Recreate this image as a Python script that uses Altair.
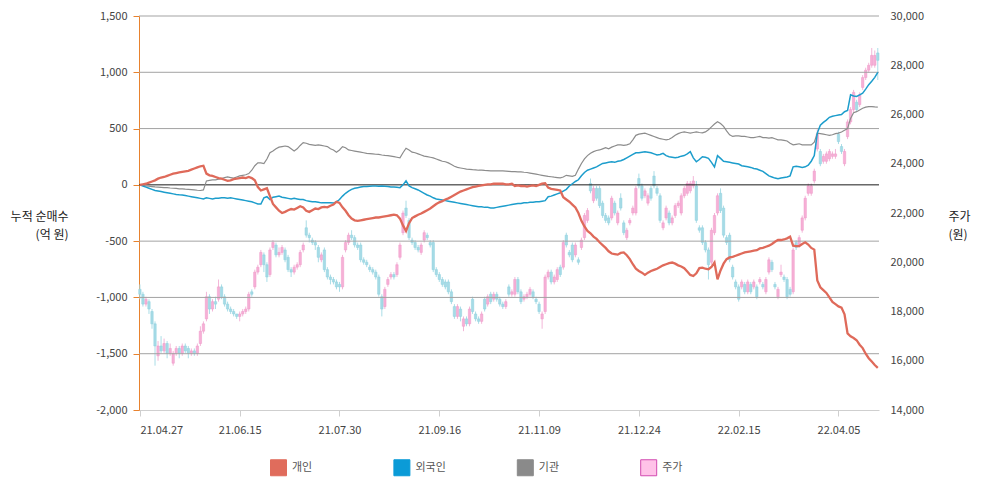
import altair as alt
import pandas as pd

# ---------------- data ----------------
TICK_IDX = [0, 33, 66, 99, 132, 165, 198, 231]
TICK_LABELS = ["21.04.27", "21.06.15", "21.07.30", "21.09.16", "21.11.09", "21.12.24", "22.02.15", "22.04.05"]
LEFT_TICKS = [-2000, -1500, -1000, -500, 0, 500, 1000, 1500]
GRID_VALUES = [-1500, -1000, -500, 500, 1000, 1500]
RIGHT_TICKS = [14000, 16000, 18000, 20000, 22000, 24000, 26000, 28000, 30000]
SERIES = ["개인", "외국인", "기관", "주가"]

# stock price OHLC, in units of 100 won
OPEN = [
    189, 187, 183, 184, 180, 175, 162, 166, 164, 167,
    163, 159, 163, 165, 163, 166, 165, 163, 164, 163,
    167, 172, 177, 186, 181, 184, 185, 190, 186, 183,
    181, 180, 179, 178, 179, 180, 181, 188, 190, 196,
    199, 203, 199, 195, 206, 207, 203, 204, 205, 202,
    197, 196, 198, 199, 205, 214, 211, 209, 208, 206,
    201, 205, 197, 194, 193, 192, 191, 190, 205, 208,
    211, 210, 207, 207, 201, 200, 198, 197, 196, 194,
    186, 182, 191, 194, 195, 195, 202, 212, 222, 217,
    209, 208, 206, 204, 209, 211, 208, 208, 197, 195,
    193, 192, 192, 188, 182, 178, 181, 174, 177, 175,
    185, 179, 177, 176, 185, 183, 187, 185, 187, 185,
    183, 182, 190, 187, 187, 193, 188, 185, 186, 187,
    188, 185, 183, 177, 180, 194, 196, 192, 193, 198,
    198, 211, 204, 207, 203, 201, 206, 210, 217, 232,
    225, 230, 230, 224, 219, 218, 218, 224, 216, 226,
    216, 210, 216, 220, 220, 234, 231, 227, 224, 230,
    235, 230, 227, 214, 218, 220, 216, 219, 223, 220,
    227, 228, 229, 231, 231, 214, 214, 208, 205, 200,
    212, 220, 228, 222, 210, 211, 198, 192, 190, 190,
    191, 188, 191, 190, 190, 192, 191, 188, 196, 200,
    191, 186, 195, 194, 193, 189, 188, 208, 207, 213,
    218, 228, 228, 233, 246, 245, 241, 241, 242, 243,
    243, 252, 247, 240, 251, 257, 262, 265, 264, 271,
    275, 278, 280, 280, 285,
]
CLOSE = [
    187, 183, 185, 181, 175, 166, 166, 164, 167, 163,
    165, 163, 165, 163, 166, 164, 163, 164, 163, 166,
    172, 175, 186, 181, 184, 183, 190, 186, 183, 181,
    180, 179, 178, 179, 180, 181, 187, 187, 196, 198,
    204, 199, 194, 205, 208, 203, 204, 206, 201, 197,
    196, 198, 199, 204, 207, 211, 210, 208, 207, 202,
    203, 197, 194, 193, 192, 190, 190, 202, 208, 211,
    210, 207, 206, 201, 200, 199, 197, 196, 194, 187,
    181, 189, 193, 195, 194, 199, 207, 220, 219, 210,
    208, 206, 205, 207, 212, 210, 207, 197, 195, 193,
    191, 190, 188, 184, 178, 182, 178, 177, 175, 181,
    180, 177, 176, 179, 181, 186, 184, 187, 185, 183,
    182, 184, 187, 188, 193, 188, 184, 186, 187, 189,
    186, 184, 180, 179, 194, 196, 192, 194, 197, 195,
    208, 207, 203, 201, 207, 200, 209, 219, 221, 229,
    230, 226, 223, 219, 217, 216, 226, 220, 220, 222,
    212, 213, 217, 222, 230, 231, 226, 229, 227, 226,
    231, 228, 217, 216, 222, 216, 218, 223, 224, 227,
    230, 232, 232, 233, 217, 213, 208, 205, 199, 213,
    219, 227, 221, 211, 208, 201, 194, 190, 185, 192,
    188, 192, 188, 192, 186, 193, 190, 193, 201, 197,
    190, 189, 196, 193, 186, 187, 205, 206, 210, 218,
    226, 231, 231, 237, 252, 240, 243, 244, 245, 244,
    244, 249, 245, 245, 257, 262, 269, 262, 268, 275,
    278, 280, 284, 284, 282,
]
HIGH = [
    191, 188, 186, 185, 181, 176, 168, 170, 169, 168,
    167, 164, 166, 166, 167, 167, 166, 165, 165, 167,
    174, 176, 188, 187, 185, 186, 193, 191, 187, 184,
    182, 181, 179, 180, 181, 182, 188, 189, 197, 199,
    205, 204, 200, 206, 209, 208, 206, 207, 206, 203,
    198, 199, 200, 205, 208, 217, 212, 210, 209, 207,
    204, 206, 198, 195, 194, 193, 192, 203, 209, 212,
    213, 211, 208, 208, 202, 201, 199, 198, 197, 195,
    187, 190, 194, 196, 196, 200, 208, 221, 225, 218,
    210, 209, 207, 208, 213, 212, 209, 209, 198, 196,
    194, 193, 193, 189, 183, 183, 182, 178, 178, 182,
    186, 180, 178, 180, 186, 187, 188, 188, 188, 186,
    184, 185, 191, 189, 194, 194, 189, 187, 188, 190,
    189, 186, 184, 180, 195, 197, 197, 195, 198, 199,
    209, 212, 205, 208, 208, 202, 210, 220, 222, 234,
    231, 231, 231, 225, 220, 219, 227, 225, 221, 228,
    217, 214, 218, 223, 231, 236, 232, 230, 228, 231,
    237, 231, 228, 217, 223, 221, 219, 224, 225, 228,
    231, 233, 233, 235, 233, 215, 215, 209, 206, 214,
    220, 228, 230, 223, 211, 212, 199, 193, 191, 193,
    192, 193, 192, 193, 191, 194, 192, 194, 202, 201,
    192, 190, 199, 195, 194, 190, 206, 209, 211, 219,
    227, 232, 232, 238, 254, 246, 244, 245, 246, 245,
    246, 253, 248, 246, 258, 263, 270, 266, 269, 276,
    279, 281, 287, 286, 287,
]
LOW = [
    185, 182, 182, 179, 173, 158, 160, 163, 163, 161,
    162, 158, 162, 161, 162, 163, 161, 162, 162, 162,
    166, 171, 176, 179, 180, 181, 184, 185, 182, 180,
    179, 178, 177, 176, 178, 179, 180, 186, 189, 195,
    198, 196, 192, 194, 205, 202, 202, 203, 200, 196,
    194, 195, 197, 198, 204, 210, 208, 207, 205, 200,
    200, 196, 193, 191, 191, 189, 188, 189, 204, 207,
    209, 206, 205, 200, 199, 198, 196, 195, 193, 186,
    178, 181, 190, 193, 193, 194, 201, 211, 218, 209,
    207, 205, 204, 203, 208, 209, 206, 196, 194, 192,
    190, 189, 187, 183, 177, 177, 176, 172, 174, 174,
    179, 176, 175, 175, 180, 182, 183, 184, 184, 182,
    181, 181, 186, 186, 186, 187, 183, 184, 185, 186,
    185, 183, 179, 173, 179, 193, 191, 191, 192, 194,
    197, 206, 202, 200, 202, 199, 205, 209, 216, 228,
    224, 225, 222, 218, 216, 215, 217, 219, 215, 221,
    211, 209, 215, 219, 219, 230, 225, 226, 223, 225,
    230, 227, 216, 213, 217, 215, 215, 218, 222, 219,
    226, 227, 228, 230, 216, 212, 207, 204, 193, 199,
    211, 219, 220, 210, 207, 200, 193, 189, 184, 189,
    187, 187, 187, 189, 185, 191, 189, 187, 195, 196,
    189, 185, 194, 192, 185, 186, 187, 205, 206, 212,
    217, 227, 227, 232, 245, 239, 240, 240, 241, 242,
    242, 248, 244, 239, 250, 256, 261, 261, 263, 270,
    274, 277, 279, 279, 274,
]

# cumulative net buying, 억 원
PERSONAL = [
    0, 5, 10, 20, 30, 40, 55, 65, 70, 80,
    90, 100, 105, 110, 115, 120, 125, 135, 145, 155,
    165, 170, 100, 85, 80, 70, 60, 55, 45, 35,
    40, 50, 55, 60, 65, 60, 70, 60, 40, -20,
    -50, -40, -30, -100, -170, -200, -230, -250, -240, -225,
    -215, -220, -205, -190, -200, -230, -240, -225, -210, -215,
    -200, -195, -200, -185, -175, -150, -160, -200, -230, -270,
    -300, -315, -320, -315, -310, -305, -300, -295, -290, -290,
    -285, -280, -275, -270, -265, -270, -300, -360, -410, -340,
    -295, -280, -265, -255, -240, -225, -210, -190, -170, -155,
    -145, -130, -120, -105, -90, -75, -60, -50, -40, -30,
    -20, -15, -10, -5, 0, 5, 5, 10, 10, 10,
    10, 5, 5, 10, -10, -5, -10, -10, -15, -10,
    -5, -10, 0, 10, 15, -25, -35, -40, -45, -50,
    -110, -130, -150, -175, -200, -250, -320, -370, -410, -430,
    -460, -480, -510, -535, -560, -590, -610, -615, -620, -605,
    -600, -625, -660, -705, -745, -765, -780, -800, -780, -765,
    -755, -745, -730, -715, -705, -695, -690, -700, -715, -725,
    -740, -770, -800, -810, -785, -740, -735, -745, -750, -730,
    -690, -840, -760, -700, -660, -645, -640, -630, -620, -610,
    -600, -595, -590, -585, -580, -565, -560, -550, -540, -525,
    -505, -490, -490, -485, -475, -460, -540, -545, -545, -525,
    -510, -530, -560, -575, -850, -910, -935, -960, -1000, -1040,
    -1060, -1080, -1090, -1150, -1320, -1345, -1360, -1380, -1420, -1450,
    -1500, -1540, -1570, -1600, -1625,
]
FOREIGN = [
    0, -10, -20, -30, -40, -50, -55, -60, -65, -70,
    -75, -80, -85, -88, -90, -95, -100, -105, -110, -115,
    -120, -125, -115, -120, -125, -120, -118, -115, -115, -118,
    -115, -120, -125, -130, -135, -140, -145, -150, -160, -170,
    -170, -115, -105, -130, -110, -105, -100, -110, -115, -120,
    -125, -120, -125, -130, -130, -140, -145, -150, -150, -155,
    -160, -160, -158, -160, -162, -150, -130, -100, -75, -55,
    -40, -30, -25, -20, -15, -15, -12, -10, -10, -12,
    -10, -12, -15, -18, -20, -22, -25, 0, 35, -10,
    -25, -35, -45, -60, -75, -90, -100, -115, -125, -130,
    -135, -140, -145, -150, -155, -160, -165, -170, -175, -180,
    -185, -190, -195, -195, -200, -200, -205, -205, -200, -195,
    -190, -185, -180, -175, -170, -165, -165, -160, -160, -155,
    -155, -150, -150, -145, -140, -105, -100, -90, -80, -70,
    -55, -40, -10, 10, 30, 45, 80, 110, 130, 140,
    150, 160, 175, 190, 195, 200, 205, 200, 210, 215,
    225, 240, 255, 270, 285, 285, 290, 295, 290, 285,
    275, 265, 270, 280, 260, 250, 245, 240, 245, 255,
    260, 275, 295, 240, 205, 225, 250, 245, 235, 200,
    160, 260, 235, 210, 205, 200, 195, 190, 185, 170,
    165, 160, 155, 145, 140, 130, 120, 100, 80, 70,
    60, 55, 60, 65, 70, 80, 160, 165, 160, 155,
    160, 175, 210, 260, 460, 530, 555, 575, 600, 610,
    615, 620, 625, 650, 660, 800, 790, 785, 800, 815,
    850, 890, 920, 955, 1000,
]
INSTITUTION = [
    0, -5, -10, -12, -15, -18, -20, -22, -25, -25,
    -28, -30, -32, -35, -35, -38, -40, -42, -45, -48,
    -50, -45, 35, 40, 45, 45, 50, 55, 65, 70,
    65, 60, 70, 80, 85, 90, 100, 130, 170, 195,
    195, 190, 230, 285, 300, 320, 335, 340, 345, 340,
    320, 300, 320, 350, 375, 370, 360, 355, 350, 355,
    350, 345, 340, 320, 310, 290, 310, 340, 330, 310,
    305, 300, 295, 290, 285, 280, 278, 275, 272, 270,
    265, 262, 260, 255, 250, 245, 240, 285, 325, 310,
    290, 285, 275, 265, 255, 250, 245, 240, 230, 220,
    210, 205, 195, 180, 165, 155, 150, 145, 140, 138,
    135, 133, 130, 130, 128, 127, 125, 125, 125, 124,
    124, 122, 120, 118, 118, 116, 115, 112, 110, 105,
    100, 95, 90, 85, 80, 75, 72, 68, 65, 62,
    70, 85, 80, 75, 85, 140, 190, 230, 260, 280,
    295, 305, 310, 320, 330, 320, 335, 345, 355, 355,
    350, 355, 365, 400, 440, 450, 455, 460, 450, 440,
    430, 420, 410, 405, 400, 405, 420, 440, 455, 465,
    470, 465, 460, 465, 470, 465, 462, 470, 490, 515,
    540, 560, 545, 520, 480, 445, 430, 435, 435, 430,
    430, 425, 420, 420, 425, 430, 420, 420, 415, 420,
    410, 400, 400, 395, 390, 370, 355, 360, 365, 355,
    355, 355, 355, 380, 460, 455, 450, 445, 440, 445,
    455, 460, 470, 485, 500, 590, 640, 650, 665, 680,
    690, 695, 695, 692, 690,
]

n = len(CLOSE)
assert all(len(a) == n for a in [OPEN, HIGH, LOW, PERSONAL, FOREIGN, INSTITUTION])

price_df = pd.DataFrame({
    "i": list(range(n)),
    "open": [v * 100 for v in OPEN],
    "close": [v * 100 for v in CLOSE],
    "high": [v * 100 for v in HIGH],
    "low": [v * 100 for v in LOW],
})
price_df["dir"] = ["up" if c >= o else "down" for o, c in zip(OPEN, CLOSE)]

flow_df = pd.DataFrame({"i": list(range(n)), "personal": PERSONAL,
                        "foreign": FOREIGN, "inst": INSTITUTION})
grid_df = pd.DataFrame({"v": GRID_VALUES})
zero_df = pd.DataFrame({"v": [0]})
legend_df = pd.DataFrame({"name": SERIES})

# ---------------- styling ----------------
FONT = "Noto Sans CJK KR"
UP_FILL, UP_EDGE, UP_WICK = "#f6b0d6", "#ee98c8", "#f3b6d8"
DN_FILL, DN_EDGE, DN_WICK = "#a6dbe6", "#8fd0de", "#aadde7"
C_PERSONAL, C_FOREIGN, C_INST = "#df6a5a", "#1c9dcc", "#8c8c8c"
LEGEND_FILLS = ["#e06c5c", "#0b9bd7", "#8a8a8a", "#ffc2e8"]
LEGEND_STROKES = ["#e06c5c", "#0b9bd7", "#8a8a8a", "#d24bb0"]

xs = alt.Scale(domain=[-0.3, 244.4], nice=False, zero=False, padding=0)
ys_price = alt.Scale(domain=[14000, 30000], nice=False, zero=False, padding=0)
ys_left = alt.Scale(domain=[-2000, 1500], nice=False, zero=False, padding=0)

labels_js = "[" + ",".join(f"'{t}'" for t in TICK_LABELS) + "]"
idx_js = "[" + ",".join(str(t) for t in TICK_IDX) + "]"
x_axis = alt.Axis(values=TICK_IDX, labelExpr=f"{labels_js}[indexof({idx_js}, datum.value)]",
                  title=None, grid=False, domainColor="#cfcfcf", tickColor="#cfcfcf",
                  tickSize=6, labelPadding=8, labelFontSize=11, labelColor="#444",
                  labelFont=FONT, orient="bottom")

right_axis = alt.Axis(orient="right", values=RIGHT_TICKS,
                      labelExpr="format(datum.value, ',')", grid=False,
                      domain=False, ticks=False, labelPadding=11, labelFontSize=11,
                      labelColor="#444", labelFont=FONT,
                      title=["주가", "(원)"], titleAngle=0, titleAlign="left",
                      titleBaseline="alphabetic", titleX=69, titleY=204,
                      titleFontSize=12, titleFontWeight="normal", titleColor="#222",
                      titleFont=FONT, titleLineHeight=18)

left_axis = alt.Axis(orient="left", values=LEFT_TICKS,
                     labelExpr="(datum.value < 0 ? '-' : '') + format(abs(datum.value), ',')",
                     grid=False, domainColor="#e8822e", tickColor="#e8822e", tickSize=6,
                     labelPadding=6, labelFontSize=11, labelColor="#444", labelFont=FONT,
                     title=["누적 순매수", "(억 원)"], titleAngle=0, titleAlign="right",
                     titleBaseline="alphabetic", titleX=-71, titleY=204,
                     titleFontSize=12, titleFontWeight="normal", titleColor="#222",
                     titleFont=FONT, titleLineHeight=18)

X = alt.X("i:Q", scale=xs, axis=x_axis)

base_p = alt.Chart(price_df)
wick_up = base_p.transform_filter("datum.dir == 'up'").mark_rule(color=UP_WICK, strokeWidth=1).encode(
    x=X, y=alt.Y("low:Q", scale=ys_price, axis=None), y2="high:Q")
wick_dn = base_p.transform_filter("datum.dir == 'down'").mark_rule(color=DN_WICK, strokeWidth=1).encode(
    x=X, y=alt.Y("low:Q", scale=ys_price, axis=None), y2="high:Q")
body_up = base_p.transform_filter("datum.dir == 'up'").mark_bar(
    size=2.4, fill=UP_FILL, stroke=UP_EDGE, strokeWidth=0.5).encode(
    x=X, y=alt.Y("open:Q", scale=ys_price, axis=right_axis), y2="close:Q")
body_dn = base_p.transform_filter("datum.dir == 'down'").mark_bar(
    size=2.4, fill=DN_FILL, stroke=DN_EDGE, strokeWidth=0.5).encode(
    x=X, y=alt.Y("open:Q", scale=ys_price, axis=None), y2="close:Q")

grid = alt.Chart(grid_df).mark_rule(color="#a3a3a3", strokeWidth=1).encode(
    y=alt.Y("v:Q", scale=ys_left, axis=None))
zero = alt.Chart(zero_df).mark_rule(color="#1a1a1a", strokeWidth=1).encode(
    y=alt.Y("v:Q", scale=ys_left, axis=None))
base_f = alt.Chart(flow_df)
line_inst = base_f.mark_line(color=C_INST, strokeWidth=1.2).encode(
    x=X, y=alt.Y("inst:Q", scale=ys_left, axis=None))
line_foreign = base_f.mark_line(color=C_FOREIGN, strokeWidth=1.5).encode(
    x=X, y=alt.Y("foreign:Q", scale=ys_left, axis=None))
line_personal = base_f.mark_line(color=C_PERSONAL, strokeWidth=2.3).encode(
    x=X, y=alt.Y("personal:Q", scale=ys_left, axis=left_axis))

leg = alt.Legend(title=None, orient="none", legendX=131, legendY=443, direction="horizontal",
                 columns=4, gridAlign="all", columnPadding=68.4, symbolType="square",
                 symbolSize=256, symbolStrokeWidth=1, symbolOpacity=1, labelFontSize=11,
                 labelColor="#555", labelFont=FONT, labelOffset=5, padding=0)
legend_layer = alt.Chart(legend_df).transform_filter("false").mark_square(
    size=256, opacity=1, filled=True, strokeWidth=1).encode(
    fill=alt.Fill("name:N", scale=alt.Scale(domain=SERIES, range=LEGEND_FILLS), legend=leg),
    stroke=alt.Stroke("name:N", scale=alt.Scale(domain=SERIES, range=LEGEND_STROKES), legend=leg))

chart = alt.layer(
    wick_up, wick_dn, body_up, body_dn,
    grid, zero, line_inst, line_foreign, line_personal,
    legend_layer,
).resolve_scale(
    y="independent"
).properties(
    width=740, height=394,
    autosize=alt.AutoSizeParams(type="none"),
    padding={"left": 131, "top": 8, "right": 98, "bottom": 80},
).configure(font=FONT).configure_view(stroke=None)

chart.save("out.html", embed_options={"renderer": "svg", "actions": False})
